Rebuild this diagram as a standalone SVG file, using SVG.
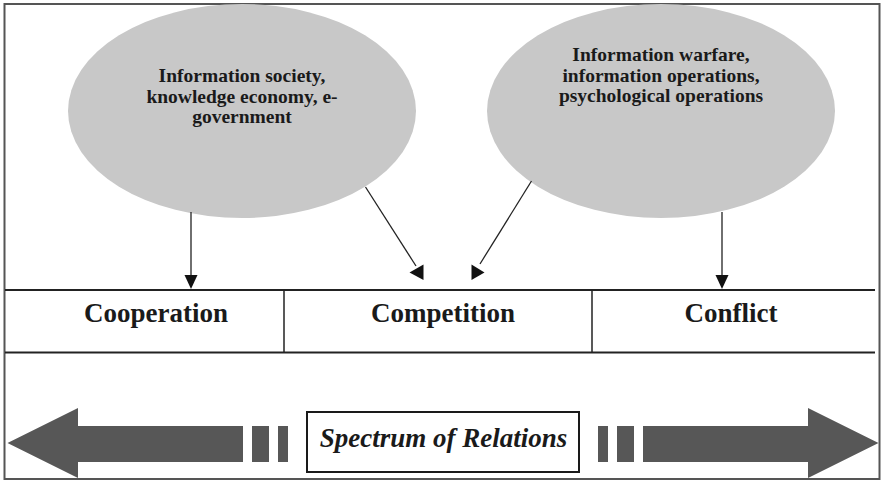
<svg xmlns="http://www.w3.org/2000/svg" width="882" height="481" viewBox="0 0 882 481">
  <style>
    .bubble { fill: #c8c8c8; stroke: none; }
    .bubble-text { font-family: "Liberation Serif", "Times New Roman", serif; font-weight: bold; font-size: 19.5px; fill: #1a1a1a; text-anchor: middle; }
    .stage-text { font-family: "Liberation Serif", "Times New Roman", serif; font-weight: bold; font-size: 27px; fill: #1a1a1a; text-anchor: middle; }
    .spectrum-text { font-family: "Liberation Serif", "Times New Roman", serif; font-weight: bold; font-style: italic; font-size: 27px; fill: #1a1a1a; text-anchor: middle; }
    .rule { stroke: #222; fill: none; }
    .link { stroke: #222; stroke-width: 1.3; fill: none; }
    .head { fill: #111; stroke: none; }
    .big-arrow { fill: #575757; stroke: none; }
  </style>

  <!-- frame -->
  <rect x="0" y="0" width="882" height="481" fill="#ffffff"/>
  <rect x="4.5" y="4" width="875" height="475" fill="none" stroke="#555" stroke-width="2"/>

  <!-- concept bubbles -->
  <g id="node-information-society">
    <ellipse class="bubble" cx="242" cy="111" rx="174" ry="107"/>
    <text class="bubble-text" x="242" y="82">Information society,</text>
    <text class="bubble-text" x="242" y="103">knowledge economy, e-</text>
    <text class="bubble-text" x="242" y="123">government</text>
  </g>

  <g id="node-information-warfare">
    <ellipse class="bubble" cx="661" cy="111" rx="174" ry="107"/>
    <text class="bubble-text" x="661" y="61">Information warfare,</text>
    <text class="bubble-text" x="661" y="82">information operations,</text>
    <text class="bubble-text" x="661" y="102">psychological operations</text>
  </g>

  <!-- relation stages -->
  <g id="stage-table">
    <line class="rule" x1="5" y1="290" x2="875" y2="290" stroke-width="2.2"/>
    <line class="rule" x1="5" y1="352.5" x2="875" y2="352.5" stroke-width="1.8" stroke="#333"/>
  </g>
  <g id="node-cooperation">
    <text class="stage-text" x="156" y="322">Cooperation</text>
  </g>
  <g id="node-competition">
    <line class="rule" x1="284" y1="290" x2="284" y2="352" stroke-width="1.5"/>
    <text class="stage-text" x="443" y="322">Competition</text>
  </g>
  <g id="node-conflict">
    <line class="rule" x1="592" y1="290" x2="592" y2="352" stroke-width="1.5"/>
    <text class="stage-text" x="731" y="322">Conflict</text>
  </g>

  <!-- connectors -->
  <g id="connectors">
    <line class="link" x1="191" y1="212" x2="191" y2="277"/>
    <polygon class="head" points="184.5,275 197.5,275 191,289"/>

    <line class="link" x1="365.5" y1="187" x2="416" y2="266"/>
    <polygon class="head" points="423.5,264.5 423.5,280 409.5,272.5"/>

    <line class="link" x1="531.5" y1="181" x2="480" y2="264"/>
    <polygon class="head" points="471.5,264.5 471.5,280 484.5,272.5"/>

    <line class="link" x1="722" y1="212" x2="722" y2="277"/>
    <polygon class="head" points="715.5,275 728.5,275 722,289"/>
  </g>

  <!-- spectrum arrows -->
  <g id="spectrum-arrow-left">
    <polygon class="big-arrow" points="7.5,443 78,408 78,426 243,426 243,462 78,462 78,478"/>
    <rect class="big-arrow" x="252" y="426" width="17" height="36"/>
    <rect class="big-arrow" x="278" y="426" width="10" height="36"/>
  </g>
  <g id="spectrum-arrow-right">
    <rect class="big-arrow" x="598" y="426" width="10" height="36"/>
    <rect class="big-arrow" x="617" y="426" width="17" height="36"/>
    <polygon class="big-arrow" points="878.5,443 808,408 808,426 643,426 643,462 808,462 808,478"/>
  </g>

  <g id="node-spectrum">
    <rect x="307" y="412" width="272" height="60" fill="#ffffff" stroke="#1a1a1a" stroke-width="2"/>
    <text class="spectrum-text" x="443.5" y="447">Spectrum of Relations</text>
  </g>
</svg>
